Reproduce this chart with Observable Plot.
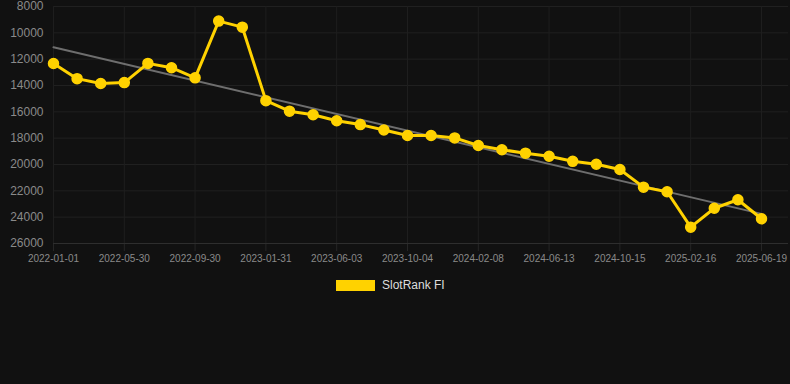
<!DOCTYPE html>
<html>
<head>
<meta charset="utf-8">
<script src="https://cdn.jsdelivr.net/npm/d3@7"></script>
<script src="https://cdn.jsdelivr.net/npm/@observablehq/plot@0.6"></script>
<style>
  html, body { margin: 0; padding: 0; background: #111111; width: 790px; height: 384px; overflow: hidden; }
  body { font-family: "Liberation Sans", Arial, Helvetica, sans-serif; position: relative; }
  #legend { position: absolute; left: 336px; top: 278px; display: flex; align-items: center; gap: 7px; font-size: 12px; color: #dddddd; }
  #legend .box { width: 39px; height: 11px; background: #FFD200; }
</style>
</head>
<body>
<div id="chart"></div>
<div id="legend"><span class="box"></span><span>SlotRank FI</span></div>
<script>
const dates = [
  "2022-01-01","2022-02-19","2022-04-10","2022-05-30","2022-07-10","2022-08-20",
  "2022-09-30","2022-11-10","2022-12-21","2023-01-31","2023-03-13","2023-04-23",
  "2023-06-03","2023-07-14","2023-08-24","2023-10-04","2023-11-15","2023-12-27",
  "2024-02-08","2024-03-20","2024-05-01","2024-06-13","2024-07-24","2024-09-03",
  "2024-10-15","2024-11-25","2025-01-05","2025-02-16","2025-03-29","2025-05-09",
  "2025-06-19"
];
const ranks = [
  12330, 13480, 13850, 13780, 12320, 12650,
  13420, 9110, 9570, 15150, 15950, 16220,
  16680, 16970, 17380, 17800, 17800, 17980,
  18560, 18880, 19140, 19370, 19760, 19980,
  20380, 21720, 22070, 24760, 23320, 22680,
  24120
];
const trendDates = ["2022-01-01", "2025-06-19"];
const trendValues = [11100, 23750];
const xTickLabels = ["2022-01-01","2022-05-30","2022-09-30","2023-01-31","2023-06-03","2023-10-04","2024-02-08","2024-06-13","2024-10-15","2025-02-16","2025-06-19"];
const yTicks = [8000, 10000, 12000, 14000, 16000, 18000, 20000, 22000, 24000, 26000];
const seriesName = "SlotRank FI";

const chart = Plot.plot({
  width: 790,
  height: 270,
  marginLeft: 53,
  marginRight: 29,
  marginTop: 6,
  marginBottom: 27,
  style: { background: "#111111", fontFamily: "'Liberation Sans', Arial, Helvetica, sans-serif", overflow: "visible" },
  x: { type: "point", domain: dates, padding: 0, inset: 0, round: false, label: null },
  y: { domain: [8000, 26000], reverse: true, label: null },
  marks: [
    Plot.gridY(yTicks, { stroke: "#202020", strokeOpacity: 1, insetRight: -27 }),
    Plot.gridX(xTickLabels, { stroke: "#1e1e1e", strokeOpacity: 1 }),
    Plot.axisY({ ticks: yTicks, tickSize: 0, tickPadding: 10, tickFormat: d3.format("d"), fontSize: 12, fill: "#8a8a8a", label: null }),
    Plot.axisX({ ticks: xTickLabels, tickSize: 8, tickPadding: 3, stroke: "#262626", fontSize: 10, fill: "#8a8a8a", label: null }),
    Plot.ruleY([26000], { stroke: "#2e2e2e", insetRight: -27 }),
    Plot.lineY(trendValues, { x: trendDates, y: trendValues, stroke: "#6e6e6e", strokeWidth: 2 }),
    Plot.lineY(ranks, { x: dates, y: ranks, stroke: "#FFD200", strokeWidth: 3, curve: "linear" }),
    Plot.dot(ranks, { x: dates, y: ranks, r: 5, fill: "#FFD200", stroke: "#FFD200", title: (d, i) => `${seriesName}: ${d}` })
  ]
});
document.getElementById("chart").appendChild(chart);
</script>
</body>
</html>
